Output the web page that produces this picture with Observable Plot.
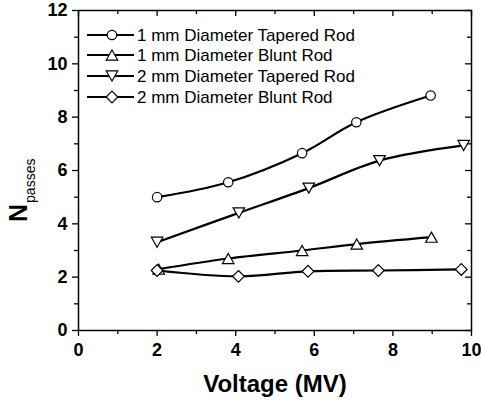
<!DOCTYPE html>
<html><head><meta charset="utf-8">
<script src="https://cdn.jsdelivr.net/npm/d3@7"></script>
<script src="https://cdn.jsdelivr.net/npm/@observablehq/plot@0.6"></script>
<style>body{margin:0;background:#fff;}</style>
</head><body><div id="chart"></div>
<script>
// ---- data ----
const seriesNames = ["1 mm Diameter Tapered Rod", "1 mm Diameter Blunt Rod", "2 mm Diameter Tapered Rod", "2 mm Diameter Blunt Rod"];
const tapered1V = [2.0, 3.81, 5.69, 7.07, 8.96];
const tapered1N = [5.0, 5.56, 6.65, 7.81, 8.81];
const blunt1V = [2.04, 3.81, 5.69, 7.08, 8.98];
const blunt1N = [2.3, 2.7, 3.0, 3.24, 3.5];
const tapered2V = [2.0, 4.08, 5.86, 7.66, 9.8];
const tapered2N = [3.31, 4.41, 5.34, 6.37, 6.94];
const blunt2V = [2.0, 4.07, 5.84, 7.63, 9.74];
const blunt2N = [2.25, 2.03, 2.22, 2.25, 2.29];
const xMajor = [0, 2, 4, 6, 8, 10];
const xMinor = [1, 3, 5, 7, 9];
const yMajor = [0, 2, 4, 6, 8, 10, 12];
const yMinor = [1, 3, 5, 7, 9, 11];
const xLabel = "Voltage (MV)";
const yLabelMain = "N";
const yLabelSub = "passes";

// ---- symbols ----
const symCircle = {draw(c, size){ const r = Math.sqrt(size/Math.PI); c.moveTo(r,0); c.arc(0,0,r,0,2*Math.PI); }};
const symTriUp = {draw(c, size){ const a = Math.sqrt(size/Math.PI), w = 1.25*a, h = 1.1*a; c.moveTo(0,-h); c.lineTo(w,h); c.lineTo(-w,h); c.closePath(); }};
const symTriDown = {draw(c, size){ const a = Math.sqrt(size/Math.PI), w = 1.25*a, h = 1.1*a; c.moveTo(0,h); c.lineTo(w,-h); c.lineTo(-w,-h); c.closePath(); }};
const symDiamond = {draw(c, size){ const a = Math.sqrt(size/Math.PI), d = 1.3*a; c.moveTo(0,-d); c.lineTo(d,0); c.lineTo(0,d); c.lineTo(-d,0); c.closePath(); }};
const symbols = [symCircle, symTriUp, symTriDown, symDiamond];
const radii = [4.7, 4.6, 4.6, 4.5];

const series = [
  [tapered1V, tapered1N], [blunt1V, blunt1N], [tapered2V, tapered2N], [blunt2V, blunt2N]
].map(([v, n], i) => v.map((x, j) => ({x, y: n[j], s: i})));

const seriesMarks = series.flatMap((d, i) => [
  Plot.line(d, {x: "x", y: "y", curve: "catmull-rom", stroke: "black", strokeWidth: 2.2}),
  Plot.dot(d, {x: "x", y: "y", symbol: symbols[i], r: radii[i], fill: "white", stroke: "black", strokeWidth: 1.2})
]);

const W = 481, H = 405, ML = 78, MR = 10, MT = 10, MB = 75;
const innerW = W - ML - MR, innerH = H - MT - MB;
const boldText = {fontSize: 18, fontWeight: "bold"};
const chart = Plot.plot({
  width: W, height: H,
  marginLeft: ML, marginRight: MR, marginTop: MT, marginBottom: MB,
  x: {domain: [0, 10], label: null},
  y: {domain: [0, 12], label: null},
  style: {fontFamily: "'Liberation Sans', Arial, sans-serif", background: "white", color: "black"},
  marks: [
    Plot.axisX(xMajor, {tickSize: 6, tickPadding: 7, ...boldText, label: null, strokeWidth: 1.3}),
    Plot.axisX(xMinor, {tickSize: 4, tickFormat: () => "", label: null, strokeWidth: 1.3}),
    Plot.axisY(yMajor, {tickSize: 6, tickPadding: 5, ...boldText, label: null, strokeWidth: 1.3}),
    Plot.axisY(yMinor, {tickSize: 4, tickFormat: () => "", label: null, strokeWidth: 1.3}),
    // inward mirror ticks on top and right
    Plot.tickX(xMajor, {x: d => d, insetBottom: innerH - 6, stroke: "black", strokeWidth: 1.3}),
    Plot.tickX(xMinor, {x: d => d, insetBottom: innerH - 4, stroke: "black", strokeWidth: 1.3}),
    Plot.tickY(yMajor, {y: d => d, insetLeft: innerW - 6, stroke: "black", strokeWidth: 1.3}),
    Plot.tickY(yMinor, {y: d => d, insetLeft: innerW - 4, stroke: "black", strokeWidth: 1.3}),
    Plot.frame({stroke: "black", strokeWidth: 1.5}),
    ...seriesMarks
  ]
});

const svg = d3.select(chart);
// axis labels
svg.append("text").attr("x", 275).attr("y", 392).attr("text-anchor", "middle")
  .attr("font-size", 24).attr("font-weight", "bold").attr("fill", "black").text(xLabel);
const yl = svg.append("text").attr("transform", "translate(27,222) rotate(-90)").attr("text-anchor", "start").attr("fill", "black");
yl.append("tspan").attr("font-size", 25).attr("font-weight", "bold").text(yLabelMain);
yl.append("tspan").attr("font-size", 14).attr("dy", 8).attr("dx", 1).text(yLabelSub);

// legend
const legRows = [35, 55, 76, 97];
const lg = svg.append("g").attr("text-anchor", "start");
seriesNames.forEach((name, i) => {
  const y = legRows[i];
  lg.append("line").attr("x1", 87).attr("x2", 134).attr("y1", y).attr("y2", y).attr("stroke", "black").attr("stroke-width", 2.2);
  lg.append("path").attr("d", d3.symbol(symbols[i], Math.PI * radii[i] * radii[i])())
    .attr("transform", `translate(112,${y})`).attr("fill", "white").attr("stroke", "black").attr("stroke-width", 1.2);
  lg.append("text").attr("x", 137).attr("y", y + 6).attr("font-size", 17).attr("text-anchor", "start").attr("fill", "black").text(name);
});

document.getElementById("chart").appendChild(chart);
</script>
</body></html>
